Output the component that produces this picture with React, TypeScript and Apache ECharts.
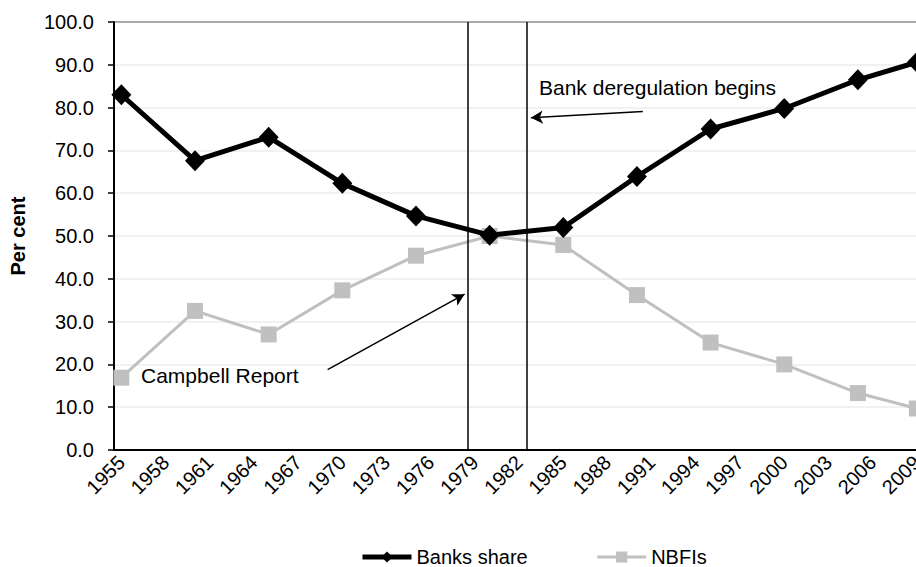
import React, { useEffect, useRef } from "react";
import * as echarts from "echarts";

const axisYears = [
  "1955","1956","1957","1958","1959","1960","1961","1962","1963","1964",
  "1965","1966","1967","1968","1969","1970","1971","1972","1973","1974",
  "1975","1976","1977","1978","1979","1980","1981","1982","1983","1984",
  "1985","1986","1987","1988","1989","1990","1991","1992","1993","1994",
  "1995","1996","1997","1998","1999","2000","2001","2002","2003","2004",
  "2005","2006","2007","2008","2009",
];
const dataYears = [1955, 1960, 1965, 1970, 1975, 1980, 1985, 1990, 1995, 2000, 2005, 2009];
const banksShare = [83.0, 67.6, 73.1, 62.3, 54.7, 50.2, 52.0, 63.9, 75.0, 79.8, 86.5, 90.6];
const nbfis = [16.9, 32.5, 27.0, 37.3, 45.4, 50.0, 47.9, 36.2, 25.1, 20.0, 13.3, 9.7];

// annotation positions (data coordinates on a year scale)
const campbellLineX = 1978.5;
const deregLineX = 1982.5;
const campbellArrow = [[1969.0, 18.8], [1978.3, 36.4]];
const deregArrow = [[1990.4, 79.1], [1982.8, 77.6]];

const FONT = "'Liberation Sans', Arial, Helvetica, sans-serif";

export default function App() {
  const ref = useRef<HTMLDivElement>(null);
  useEffect(() => {
    if (!ref.current) return;
    const chart = echarts.init(ref.current, undefined, { renderer: "svg" });
    const splitColors = ["#ececec","#ececec","#ececec","#ececec","#ececec","#ececec","#ececec","#ececec","#ececec","#ececec","#8c8c8c"];
    chart.setOption({
      animation: false,
      backgroundColor: "#ffffff",
      textStyle: { fontFamily: FONT },
      grid: { left: 114, top: 22, right: 0, bottom: 117, containLabel: false },
      legend: {
        left: 355,
        top: 542,
        itemWidth: 49,
        itemHeight: 14,
        itemGap: 68,
        textStyle: { fontSize: 20, color: "#000", fontFamily: FONT },
        data: [
          { name: "Banks share", lineStyle: { width: 5, color: "#000" } },
          { name: "NBFIs", lineStyle: { width: 3, color: "#c0c0c0" } },
        ],
      },
      xAxis: [
        {
          type: "category",
          data: axisYears,
          boundaryGap: true,
          axisLine: { lineStyle: { color: "#000", width: 2 } },
          axisTick: { interval: 2, length: 6, alignWithLabel: false, lineStyle: { color: "#000", width: 1.5 } },
          axisLabel: { interval: 2, rotate: 45, fontSize: 20, color: "#000", margin: 9, fontFamily: FONT },
          splitLine: { show: false },
        },
        {
          type: "value",
          min: 1954.5,
          max: 2009.5,
          show: false,
          splitLine: { show: false },
        },
      ],
      yAxis: {
        type: "value",
        min: 0,
        max: 100,
        interval: 10,
        name: "Per cent",
        nameLocation: "middle",
        nameGap: 86,
        nameTextStyle: { fontSize: 20, fontWeight: "bold", color: "#000", fontFamily: FONT },
        axisLine: { show: true, lineStyle: { color: "#000", width: 2 } },
        axisTick: { show: true, length: 6, lineStyle: { color: "#000", width: 1.5 } },
        axisLabel: { fontSize: 20, color: "#000", margin: 20, fontFamily: FONT, formatter: (v: number) => v.toFixed(1) },
        splitLine: { show: true, lineStyle: { color: splitColors, width: 1.5 } },
      },
      series: [
        {
          name: "NBFIs",
          type: "line",
          xAxisIndex: 1,
          yAxisIndex: 0,
          data: dataYears.map((y, i) => [y, nbfis[i]]),
          lineStyle: { color: "#c0c0c0", width: 3 },
          itemStyle: { color: "#c0c0c0" },
          symbol: "rect",
          symbolSize: 16,
          z: 2,
          markLine: {
            silent: true,
            symbol: ["none", "none"],
            label: { show: false },
            lineStyle: { color: "#000", width: 1.5, type: "solid" },
            emphasis: { disabled: true },
            data: [
              { xAxis: campbellLineX },
              { xAxis: deregLineX },
              [
                { coord: campbellArrow[0], symbol: "none" },
                { coord: campbellArrow[1], symbol: "arrow", symbolSize: [10, 12] },
              ],
              [
                { coord: deregArrow[0], symbol: "none" },
                { coord: deregArrow[1], symbol: "arrow", symbolSize: [10, 12] },
              ],
            ],
          },
        },
        {
          name: "Banks share",
          type: "line",
          xAxisIndex: 1,
          yAxisIndex: 0,
          data: dataYears.map((y, i) => [y, banksShare[i]]),
          lineStyle: { color: "#000", width: 5 },
          itemStyle: { color: "#000" },
          symbol: "diamond",
          symbolSize: [20, 21],
          z: 3,
        },
      ],
      graphic: [
        {
          type: "text",
          left: 141,
          top: 365,
          style: { text: "Campbell Report", fontSize: 21, fill: "#000", fontFamily: FONT },
          z: 10,
        },
        {
          type: "text",
          left: 539,
          top: 77,
          style: { text: "Bank deregulation begins", fontSize: 21, fill: "#000", fontFamily: FONT },
          z: 10,
        },
      ],
    });
    return () => chart.dispose();
  }, []);
  return (
    <div
      ref={ref}
      style={{ position: "fixed", left: 0, top: 0, width: 926, height: 567 }}
    />
  );
}
